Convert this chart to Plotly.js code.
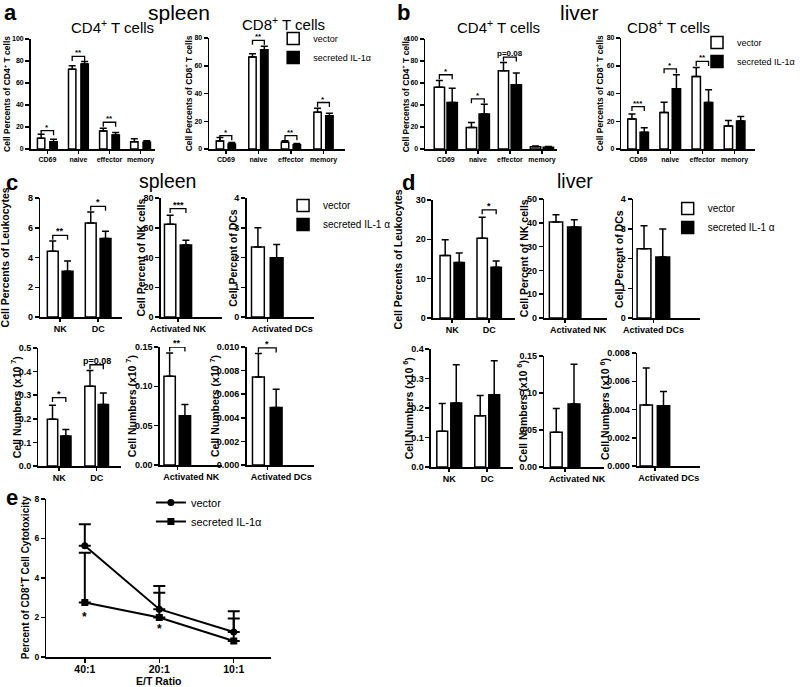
<!DOCTYPE html>
<html><head><meta charset="utf-8">
<script src="https://cdn.plot.ly/plotly-3.0.1.min.js"></script>
<style>html,body{margin:0;padding:0;background:#fff}#chart{width:800px;height:687px}</style>
</head><body><div id="chart"></div>
<script>
// ================= DATA =================
// Panel a / b : T-cell subsets
const tCellCats = ['CD69', 'naive', 'effector', 'memory'];

const spleenCD4Vector      = [9.7, 72.6, 16.4, 6.7];
const spleenCD4VectorErr   = [3.7, 3.1, 2.4, 2.7];
const spleenCD4Secreted    = [6.7, 77.2, 12.8, 6.1];
const spleenCD4SecretedErr = [2.1, 2.4, 2.1, 1.5];
const spleenCD4Sig  = ['*', '**', '**', ''];
const spleenCD4SigY = [16.7, 84.2, 24.3, null];

const spleenCD8Vector      = [5.8, 66.3, 4.8, 26.5];
const spleenCD8VectorErr   = [2.4, 2.4, 1.2, 2.9];
const spleenCD8Secreted    = [3.6, 71.6, 3.1, 23.9];
const spleenCD8SecretedErr = [1.0, 2.4, 0.8, 1.9];
const spleenCD8Sig  = ['*', '**', '**', '*'];
const spleenCD8SigY = [9.6, 78.3, 9.6, 33.5];

const liverCD4Vector      = [56.2, 19.5, 71.1, 2.0];
const liverCD4VectorErr   = [6.1, 4.5, 7.6, 0.8];
const liverCD4Secreted    = [42.2, 31.9, 58.4, 1.6];
const liverCD4SecretedErr = [13.1, 8.8, 10.6, 0.7];
const liverCD4Sig  = ['*', '*', 'p=0.08', ''];
const liverCD4SigY = [67.5, 45.6, 83.6, null];

const liverCD8Vector      = [21.7, 26.3, 52.3, 16.6];
const liverCD8VectorErr   = [3.6, 7.4, 6.5, 3.9];
const liverCD8Secreted    = [12.0, 43.4, 33.5, 20.2];
const liverCD8SecretedErr = [3.4, 10.1, 9.2, 3.2];
const liverCD8Sig  = ['***', '*', '**', ''];
const liverCD8SigY = [30.6, 57.8, 63.1, null];

// Panel c / d : innate cells
const innateCats = ['NK', 'DC'];
const actNKCat = ['Activated NK'];
const actDCCat = ['Activated DCs'];

const spleenLeukoVector      = [4.42, 6.32];
const spleenLeukoVectorErr   = [0.69, 0.74];
const spleenLeukoSecreted    = [3.07, 5.27];
const spleenLeukoSecretedErr = [0.70, 0.49];
const spleenLeukoSig  = ['**', '*'];
const spleenLeukoSigY = [5.49, 7.44];

const spleenNKPctVector      = [62.3];
const spleenNKPctVectorErr   = [6.1];
const spleenNKPctSecreted    = [48.4];
const spleenNKPctSecretedErr = [3.2];
const spleenNKPctSig  = ['***'];
const spleenNKPctSigY = [72.9];

const spleenDCPctVector      = [2.35];
const spleenDCPctVectorErr   = [0.65];
const spleenDCPctSecreted    = [1.99];
const spleenDCPctSecretedErr = [0.45];

const spleenNumVector      = [0.198, 0.338];
const spleenNumVectorErr   = [0.059, 0.067];
const spleenNumSecreted    = [0.127, 0.261];
const spleenNumSecretedErr = [0.028, 0.048];
const spleenNumSig  = ['*', 'p=0.08'];
const spleenNumSigY = [0.29, 0.429];

const spleenActNKNumVector      = [0.1128];
const spleenActNKNumVectorErr   = [0.0296];
const spleenActNKNumSecreted    = [0.0625];
const spleenActNKNumSecretedErr = [0.0144];
const spleenActNKNumSig  = ['**'];
const spleenActNKNumSigY = [0.150];

const spleenActDCNumVector      = [0.00746];
const spleenActDCNumVectorErr   = [0.00198];
const spleenActDCNumSecreted    = [0.00487];
const spleenActDCNumSecretedErr = [0.00155];
const spleenActDCNumSig  = ['*'];
const spleenActDCNumSigY = [0.00992];

const liverLeukoVector      = [15.9, 20.3];
const liverLeukoVectorErr   = [4.0, 5.3];
const liverLeukoSecreted    = [14.1, 12.9];
const liverLeukoSecretedErr = [2.4, 1.6];
const liverLeukoSig  = ['', '*'];
const liverLeukoSigY = [null, 27.5];

const liverNKPctVector      = [40.3];
const liverNKPctVectorErr   = [3.1];
const liverNKPctSecreted    = [38.2];
const liverNKPctSecretedErr = [3.1];

const liverDCPctVector      = [2.33];
const liverDCPctVectorErr   = [0.77];
const liverDCPctSecreted    = [2.05];
const liverDCPctSecretedErr = [0.94];

const liverNumVector      = [0.121, 0.174];
const liverNumVectorErr   = [0.094, 0.068];
const liverNumSecreted    = [0.217, 0.245];
const liverNumSecretedErr = [0.130, 0.115];

const liverActNKNumVector      = [0.047];
const liverActNKNumVectorErr   = [0.032];
const liverActNKNumSecreted    = [0.085];
const liverActNKNumSecretedErr = [0.054];

const liverActDCNumVector      = [0.00432];
const liverActDCNumVectorErr   = [0.00261];
const liverActDCNumSecreted    = [0.00427];
const liverActDCNumSecretedErr = [0.00100];

// Panel e : cytotoxicity
const etRatios = ['40:1', '20:1', '10:1'];
const cytoVector      = [5.63, 2.42, 1.27];
const cytoVectorErr   = [1.09, 1.17, 1.05];
const cytoSecreted    = [2.76, 2.00, 0.81];
const cytoSecretedErr = [2.52, 1.25, 1.14];
const cytoSig  = ['*', '*', ''];
const cytoSigY = [2.05, 1.4, null];

// ================= LAYOUT HELPERS =================
const W = 800, H = 687;
const FONT = 'Arial, "Liberation Sans", Helvetica, sans-serif';
const fnt = (size, bold) => ({family: FONT, size: size, color: '#000', weight: bold ? 'bold' : 'normal'});
const noDown = arr => arr.map(() => 0);

const ab = {tickfs: 7, xtickfs: 7, tfs: 8.5, sigfs: 8};
const cd = {tickfs: 9, xtickfs: 9, tfs: 10.5, sigfs: 9};

const panels = [
  Object.assign({cats: tCellCats, v: spleenCD4Vector, ve: spleenCD4VectorErr, s: spleenCD4Secreted, se: spleenCD4SecretedErr, sig: spleenCD4Sig, sigY: spleenCD4SigY,
    ymax: 100, dtick: 20, fmt: '', box: [31, 157, 39, 149], c0: 48, unit: 31.5, sep: 12.6, bw: 7.5, tx: 7,
    ytitle: 'Cell Percents of CD4<sup>+</sup> T cells'}, ab),
  Object.assign({cats: tCellCats, v: spleenCD8Vector, ve: spleenCD8VectorErr, s: spleenCD8Secreted, se: spleenCD8SecretedErr, sig: spleenCD8Sig, sigY: spleenCD8SigY,
    ymax: 80, dtick: 20, fmt: '', box: [212, 350, 38, 149], c0: 229, unit: 33, sep: 12, bw: 7.5, tx: 191.5, legend: 'legend',
    ytitle: 'Cell Percents of CD8<sup>+</sup> T cells', sname: 'secreted IL-1α'}, ab),
  Object.assign({cats: tCellCats, v: liverCD4Vector, ve: liverCD4VectorErr, s: liverCD4Secreted, se: liverCD4SecretedErr, sig: liverCD4Sig, sigY: liverCD4SigY,
    ymax: 100, dtick: 20, fmt: '', box: [431, 565, 39, 149], c0: 452, unit: 32.5, sep: 13, bw: 10.5, tx: 411,
    ytitle: 'Cell Percents of CD4<sup>+</sup> T cells'}, ab),
  Object.assign({cats: tCellCats, v: liverCD8Vector, ve: liverCD8VectorErr, s: liverCD8Secreted, se: liverCD8SecretedErr, sig: liverCD8Sig, sigY: liverCD8SigY,
    ymax: 80, dtick: 20, fmt: '', box: [630, 766, 38, 149], c0: 647, unit: 32.6, sep: 12.5, bw: 8.5, tx: 608, legend: 'legend2',
    ytitle: 'Cell Percents of CD8<sup>+</sup> T cells', sname: 'secreted IL-1α'}, ab),

  Object.assign({cats: innateCats, v: spleenLeukoVector, ve: spleenLeukoVectorErr, s: spleenLeukoSecreted, se: spleenLeukoSecretedErr, sig: spleenLeukoSig, sigY: spleenLeukoSigY,
    ymax: 8, dtick: 2, fmt: '', box: [41, 124, 198, 317], c0: 61, unit: 38.5, sep: 15, bw: 11, tx: 5, legend: 'legend3',
    ytitle: 'Cell Percents of Leukocytes', sname: 'secreted IL-1 α'}, cd),
  Object.assign({cats: actNKCat, v: spleenNKPctVector, ve: spleenNKPctVectorErr, s: spleenNKPctSecreted, se: spleenNKPctSecretedErr, sig: spleenNKPctSig, sigY: spleenNKPctSigY,
    ymax: 80, dtick: 20, fmt: '', box: [163, 225, 198, 317], c0: 180.5, unit: 40, sep: 16, bw: 11.5, tx: 142, shift: 13.5,
    ytitle: 'Cell Percent of NK cells'}, cd),
  Object.assign({cats: actDCCat, v: spleenDCPctVector, ve: spleenDCPctVectorErr, s: spleenDCPctSecreted, se: spleenDCPctSecretedErr,
    ymax: 4, dtick: 1, fmt: '', box: [250, 318, 198, 317], c0: 271, unit: 40, sep: 19, bw: 13, tx: 235.5, shift: 15,
    ytitle: 'Cell Percent of DCs'}, cd),
  Object.assign({cats: innateCats, v: spleenNumVector, ve: spleenNumVectorErr, s: spleenNumSecreted, se: spleenNumSecretedErr, sig: spleenNumSig, sigY: spleenNumSigY,
    ymax: 0.5, dtick: 0.1, fmt: '.1f', box: [39, 123, 348, 466], c0: 60, unit: 38, sep: 13.5, bw: 10.5, tx: 15.5,
    ytitle: 'Cell Numbers (x10 <sup>7</sup>)'}, cd),
  Object.assign({cats: actNKCat, v: spleenActNKNumVector, ve: spleenActNKNumVectorErr, s: spleenActNKNumSecreted, se: spleenActNKNumSecretedErr, sig: spleenActNKNumSig, sigY: spleenActNKNumSigY,
    ymax: 0.15, dtick: 0.05, fmt: '.2f', box: [162, 225, 347, 465], c0: 179.75, unit: 40, sep: 15.5, bw: 11.5, tx: 132, shift: 14,
    ytitle: 'Cell Numbers (x10 <sup>7</sup>)'}, cd),
  Object.assign({cats: actDCCat, v: spleenActDCNumVector, ve: spleenActDCNumVectorErr, s: spleenActDCNumSecreted, se: spleenActDCNumSecretedErr, sig: spleenActDCNumSig, sigY: spleenActDCNumSigY,
    ymax: 0.010, dtick: 0.002, fmt: '.3f', box: [250, 318, 347, 465], c0: 271, unit: 40, sep: 18, bw: 12, tx: 217, shift: 14,
    ytitle: 'Cell Numbers (x10 <sup>7</sup>)'}, cd),

  Object.assign({cats: innateCats, v: liverLeukoVector, ve: liverLeukoVectorErr, s: liverLeukoSecreted, se: liverLeukoSecretedErr, sig: liverLeukoSig, sigY: liverLeukoSigY,
    ymax: 30, dtick: 10, fmt: '', box: [439, 522, 200, 318], c0: 458.5, unit: 37.5, sep: 14.2, bw: 10.5, tx: 404, legend: 'legend4',
    ytitle: 'Cell Percents of Leukocytes', sname: 'secreted IL-1 α'}, cd),
  Object.assign({cats: actNKCat, v: liverNKPctVector, ve: liverNKPctVectorErr, s: liverNKPctSecreted, se: liverNKPctSecretedErr,
    ymax: 50, dtick: 10, fmt: '', box: [552, 615, 199, 318], c0: 573, unit: 40, sep: 18.5, bw: 13.5, tx: 531, shift: 13,
    ytitle: 'Cell Percent of NK cells'}, cd),
  Object.assign({cats: actDCCat, v: liverDCPctVector, ve: liverDCPctVectorErr, s: liverDCPctSecreted, se: liverDCPctSecretedErr,
    ymax: 4, dtick: 1, fmt: '', box: [642, 710, 199, 318], c0: 662.5, unit: 40, sep: 19, bw: 14, tx: 627, shift: 14.5,
    ytitle: 'Cell Percent of DCs'}, cd),
  Object.assign({cats: innateCats, v: liverNumVector, ve: liverNumVectorErr, s: liverNumSecreted, se: liverNumSecretedErr,
    ymax: 0.4, dtick: 0.1, fmt: '.1f', box: [437, 520, 349, 467], c0: 455.5, unit: 38.5, sep: 14.2, bw: 11, tx: 413,
    ytitle: 'Cell Numbers (x10 <sup>6</sup>)'}, cd),
  Object.assign({cats: actNKCat, v: liverActNKNumVector, ve: liverActNKNumVectorErr, s: liverActNKNumSecreted, se: liverActNKNumSecretedErr,
    ymax: 0.15, dtick: 0.05, fmt: '.2f', box: [552, 612, 356, 467], c0: 573, unit: 40, sep: 18, bw: 12, tx: 529, shift: 12,
    ytitle: 'Cell Numbers (x10 <sup>6</sup>)'}, cd),
  Object.assign({cats: actDCCat, v: liverActDCNumVector, ve: liverActDCNumVectorErr, s: liverActDCNumSecreted, se: liverActDCNumSecretedErr,
    ymax: 0.008, dtick: 0.002, fmt: '.3f', box: [646, 710, 353, 466], c0: 664, unit: 40, sep: 17.5, bw: 12.5, tx: 613, shift: 14,
    ytitle: 'Cell Numbers (x10 <sup>6</sup>)'}, cd)
];

const traces = [], shapes = [], annotations = [];
const layout = {
  width: W, height: H, margin: {l: 0, r: 0, t: 0, b: 0, pad: 0},
  paper_bgcolor: '#fff', plot_bgcolor: 'rgba(0,0,0,0)',
  barmode: 'group', showlegend: true, font: fnt(9, false)
};

const axisCommon = {showgrid: false, zeroline: false, showline: true, linecolor: '#000', linewidth: 1.5,
  ticks: 'outside', tickcolor: '#000', tickwidth: 1.5, fixedrange: true};

panels.forEach((p, k) => {
  const n = k + 1;
  const xa = n === 1 ? 'x' : 'x' + n, ya = n === 1 ? 'y' : 'y' + n;
  const xk = n === 1 ? 'xaxis' : 'xaxis' + n, yk = n === 1 ? 'yaxis' : 'yaxis' + n;
  const [xL, xR, yT, yB] = p.box;
  layout[xk] = Object.assign({}, axisCommon, {
    domain: [xL / W, xR / W], anchor: ya, type: 'category', categoryorder: 'array', categoryarray: p.cats,
    tickmode: 'array', tickvals: p.cats, ticktext: p.cats,
    range: [(xL - p.c0) / p.unit, (xR - p.c0) / p.unit], ticklen: 3, tickfont: fnt(p.xtickfs, true),
    ticklabelshift: p.shift || 0
  });
  layout[yk] = Object.assign({}, axisCommon, {
    domain: [1 - yB / H, 1 - yT / H], anchor: xa, range: [0, p.ymax], dtick: p.dtick, tick0: 0,
    tickformat: p.fmt, ticklen: 4, tickfont: fnt(p.tickfs, true)
  });
  const w = p.bw / p.unit, half = p.sep / 2 / p.unit;
  const showLeg = !!p.legend;
  traces.push({type: 'bar', name: 'vector', x: p.cats, y: p.v, xaxis: xa, yaxis: ya, width: w, offset: -half - w / 2,
    marker: {color: '#fff', line: {color: '#000', width: 1.5}},
    error_y: {type: 'data', symmetric: false, array: p.ve, arrayminus: noDown(p.ve), color: '#000', thickness: 1.5, width: 3.5},
    showlegend: showLeg, legend: p.legend || 'legend', hoverinfo: 'skip'});
  traces.push({type: 'bar', name: p.sname || 'secreted IL-1α', x: p.cats, y: p.s, xaxis: xa, yaxis: ya, width: w, offset: half - w / 2,
    marker: {color: '#000', line: {color: '#000', width: 1.5}},
    error_y: {type: 'data', symmetric: false, array: p.se, arrayminus: noDown(p.se), color: '#000', thickness: 1.5, width: 3.5},
    showlegend: showLeg, legend: p.legend || 'legend', hoverinfo: 'skip'});
  if (p.sig) {
    const d = 4.5 * p.ymax / (yB - yT);
    p.sig.forEach((lab, i) => {
      if (!lab) return;
      const y = p.sigY[i];
      shapes.push({type: 'path', xref: xa, yref: ya, layer: 'above',
        path: `M${i - half},${y - d} L${i - half},${y} L${i + half},${y} L${i + half},${y - d}`,
        line: {color: '#000', width: 1.3}});
      annotations.push({xref: xa, yref: ya, x: i, y: y, text: lab, showarrow: false, xanchor: 'center', yanchor: 'bottom',
        yshift: -3, font: fnt(p.sigfs, true)});
    });
  }
  annotations.push({xref: 'paper', yref: 'paper', x: p.tx / W, y: 1 - (yT + yB) / 2 / H, text: p.ytitle, textangle: -90,
    showarrow: false, xanchor: 'center', yanchor: 'middle', font: fnt(p.tfs, true)});
});

// Panel e
const eBox = [47, 275, 499, 657], eC0 = 86, eUnit = 75.5;
layout.xaxis17 = Object.assign({}, axisCommon, {
  domain: [eBox[0] / W, eBox[1] / W], anchor: 'y17', type: 'category', categoryorder: 'array', categoryarray: etRatios,
  tickmode: 'array', tickvals: etRatios, ticktext: etRatios,
  range: [(eBox[0] - eC0) / eUnit, (eBox[1] - eC0) / eUnit], ticklen: 4, tickfont: fnt(10.5, true),
  ticklabelstandoff: -2,
  title: {text: 'E/T Ratio', font: fnt(10.5, true), standoff: 1}
});
layout.yaxis17 = Object.assign({}, axisCommon, {
  domain: [1 - eBox[3] / H, 1 - eBox[2] / H], anchor: 'x17', range: [0, 8], dtick: 2, tick0: 0, ticklen: 4,
  tickfont: fnt(8.5, true)
});
traces.push({type: 'scatter', mode: 'lines+markers', name: 'vector', x: etRatios, y: cytoVector, xaxis: 'x17', yaxis: 'y17',
  line: {color: '#000', width: 2}, marker: {symbol: 'circle', size: 7, color: '#000'},
  error_y: {type: 'data', symmetric: false, array: cytoVectorErr, arrayminus: noDown(cytoVectorErr), color: '#000', thickness: 2, width: 6},
  legend: 'legend5', hoverinfo: 'skip'});
traces.push({type: 'scatter', mode: 'lines+markers', name: 'secreted IL-1α', x: etRatios, y: cytoSecreted, xaxis: 'x17', yaxis: 'y17',
  line: {color: '#000', width: 2}, marker: {symbol: 'square', size: 7, color: '#000'},
  error_y: {type: 'data', symmetric: false, array: cytoSecretedErr, arrayminus: noDown(cytoSecretedErr), color: '#000', thickness: 2, width: 6},
  legend: 'legend5', hoverinfo: 'skip'});
cytoSig.forEach((lab, i) => {
  if (!lab) return;
  annotations.push({xref: 'x17', yref: 'y17', x: etRatios[i], y: cytoSigY[i], text: lab, showarrow: false,
    xanchor: 'center', yanchor: 'middle', font: fnt(12, true)});
});
annotations.push({xref: 'paper', yref: 'paper', x: 25.5 / W, y: 1 - 578 / H, text: 'Percent of CD8<sup>+</sup>T Cell Cytotoxicity',
  textangle: -90, showarrow: false, xanchor: 'center', yanchor: 'middle', font: fnt(10, true)});

// Legends
const legBase = {xanchor: 'left', yanchor: 'top', bgcolor: 'rgba(0,0,0,0)', borderwidth: 0, itemwidth: 30,
  tracegroupgap: 0, traceorder: 'normal', itemclick: false, itemdoubleclick: false};
layout.legend  = Object.assign({}, legBase, {x: 277 / W, y: 1 - 24 / H, font: fnt(9, false)});
layout.legend2 = Object.assign({}, legBase, {x: 707 / W, y: 1 - 28 / H, font: fnt(9, false)});
layout.legend3 = Object.assign({}, legBase, {x: 287 / W, y: 1 - 191 / H, font: fnt(10, false)});
layout.legend4 = Object.assign({}, legBase, {x: 677 / W, y: 1 - 194 / H, font: fnt(10, false)});
layout.legend5 = Object.assign({}, legBase, {x: 153 / W, y: 1 - 488 / H, font: fnt(11, false)});

// Panel letters and titles
const label = (x, y, text, size, bold, anchor) => annotations.push({xref: 'paper', yref: 'paper', x: x / W, y: 1 - y / H,
  text: text, showarrow: false, xanchor: anchor || 'center', yanchor: 'middle', font: fnt(size, bold)});
label(2, 12, 'a', 22, true, 'left');
label(182, 12, 'spleen', 21, false);
label(114, 26, 'CD4<sup>+</sup> T cells', 15, false);
label(287, 24, 'CD8<sup>+</sup> T cells', 15, false);
label(401, 12, 'b', 22, true, 'left');
label(588, 12, 'liver', 21, false);
label(505, 26, 'CD4<sup>+</sup> T cells', 15, false);
label(678, 26, 'CD8<sup>+</sup> T cells', 15, false);
label(4, 182, 'c', 22, true, 'left');
label(170, 181, 'spleen', 19.5, false);
label(406, 182, 'd', 22, true, 'left');
label(583, 181, 'liver', 19.5, false);
label(4, 497, 'e', 22, true, 'left');

layout.shapes = shapes;
layout.annotations = annotations;

Plotly.newPlot('chart', traces, layout, {staticPlot: true, displayModeBar: false});
</script>
</body></html>
